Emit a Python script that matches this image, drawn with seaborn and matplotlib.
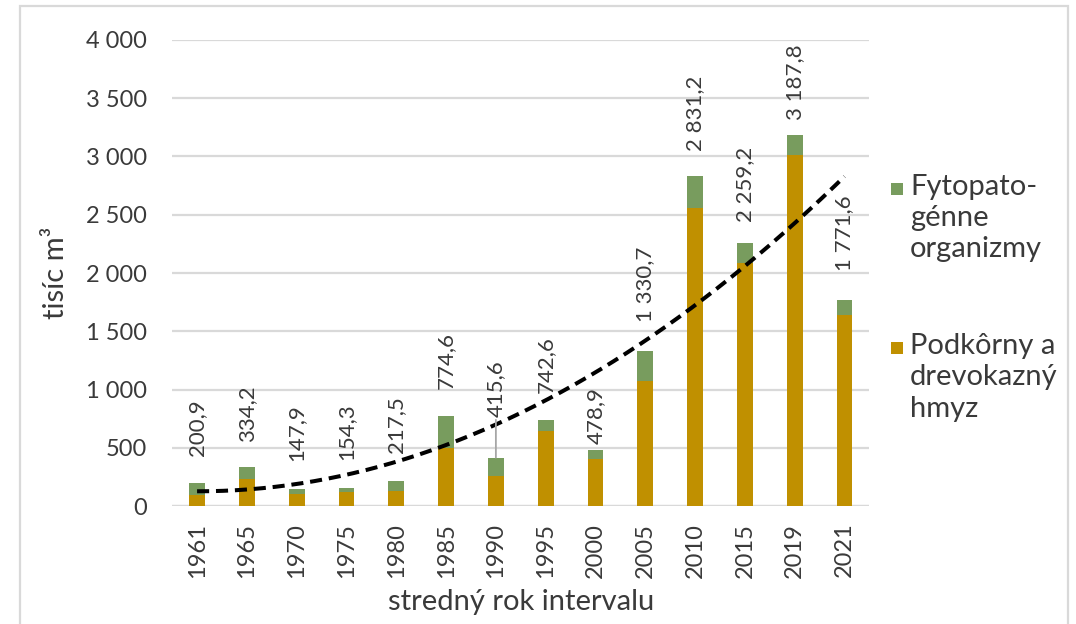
import numpy as np
import pandas as pd
import matplotlib
matplotlib.use("Agg")
import matplotlib.pyplot as plt
import matplotlib.patches as mpatches
import seaborn as sns

# ---- data ----
years = ["1961", "1965", "1970", "1975", "1980", "1985", "1990",
         "1995", "2000", "2005", "2010", "2015", "2019", "2021"]
totals = [200.9, 334.2, 147.9, 154.3, 217.5, 774.6, 415.6,
          742.6, 478.9, 1330.7, 2831.2, 2259.2, 3187.8, 1771.6]
insects = [95, 234, 103, 117, 129, 500, 260,
           643, 403, 1075, 2554, 2088, 3009, 1639]
label_texts = ["200,9", "334,2", "147,9", "154,3", "217,5", "774,6", "415,6",
               "742,6", "478,9", "1 330,7", "2 831,2", "2 259,2", "3 187,8", "1 771,6"]
yticks = [0, 500, 1000, 1500, 2000, 2500, 3000, 3500, 4000]
ytick_labels = ["0", "500", "1 000", "1 500", "2 000", "2 500", "3 000", "3 500", "4 000"]

legend_fungi = "Fytopato-\ngénne\norganizmy"
legend_insects = "Podkôrny a\ndrevokazný\nhmyz"

GREEN = "#789C5E"
GOLD = "#C09000"
TEXT = "#3A3A3A"
GRID = "#D9D9D9"

sns.set_theme(style="white")
plt.rcParams["font.family"] = ["Lato", "DejaVu Sans"]

df = pd.DataFrame({"year": years, "total": totals, "insects": insects})

fig = plt.figure(figsize=(10.76, 6.24), dpi=100)
ax = fig.add_axes([0.160, 0.189, 0.648, 0.747])

sns.barplot(data=df, x="year", y="total", order=years, color=GREEN,
            width=0.32, saturation=1, linewidth=0, ax=ax, zorder=2)
sns.barplot(data=df, x="year", y="insects", order=years, color=GOLD,
            width=0.32, saturation=1, linewidth=0, ax=ax, zorder=3)

# polynomial (order 2) trendline of totals
xpos = np.arange(len(years))
coef = np.polyfit(xpos + 1, np.array(totals), 2)
xs = np.linspace(0, len(years) - 1, 200)
ax.plot(xs, np.polyval(coef, xs + 1), color="black", lw=2.9,
        linestyle=(0, (3.0, 1.7)), zorder=5)

ax.set_ylim(0, 4000)
ax.set_xlim(-0.5, len(years) - 0.5)
ax.set_yticks(yticks)
ax.set_yticklabels(ytick_labels)
ax.yaxis.grid(True, color=GRID, lw=1.6, zorder=0)
ax.set_axisbelow(True)
for s in ax.spines.values():
    s.set_visible(False)
ax.axhline(0, color=GRID, lw=1.6, zorder=1)

ax.tick_params(axis="y", length=0, pad=18, labelsize=17, labelcolor=TEXT)
ax.tick_params(axis="x", length=0, pad=12, labelsize=17, labelcolor=TEXT,
               labelrotation=90)

ax.set_xlabel("stredný rok intervalu", fontsize=21, color=TEXT, labelpad=8)
ax.set_ylabel("tisíc m³", fontsize=21, color=TEXT, labelpad=12)

# data labels (offsets in pixels above bar top)
offsets_px = [27, 25, 28, 28, 28, 27, 41, 27, 6, 29, 25, 21, 15, 29]
for i, (t, lab) in enumerate(zip(totals, label_texts)):
    off = offsets_px[i] * 0.72
    kw = dict(xy=(i, t), xytext=(0, off), textcoords="offset points",
              rotation=90, ha="center", va="bottom", fontsize=16,
              color=TEXT, zorder=6)
    if i == 6:
        kw["arrowprops"] = dict(arrowstyle="-", color="#A6A6A6", lw=1.3,
                                shrinkA=0, shrinkB=0)
    ax.annotate(lab, **kw)

# legend (manual, squares aligned to first line)
W, H = 1076, 624
def fx(px):
    return px / W
def fy(py):
    return 1 - py / H

for sq_y, txt, col in [(183, legend_fungi, GREEN), (342, legend_insects, GOLD)]:
    fig.patches.append(mpatches.Rectangle((fx(891), fy(sq_y + 12)), fx(12), 12 / H,
                                          transform=fig.transFigure,
                                          facecolor=col, edgecolor="none"))
    fig.text(fx(910), fy(sq_y - 9), txt, fontsize=21, color=TEXT,
             ha="left", va="top", linespacing=1.25)

# light frame around the chart
frame = mpatches.Rectangle((fx(20), fy(640)), fx(1048), 634 / H,
                           transform=fig.transFigure, fill=False,
                           edgecolor=GRID, lw=1.6)
fig.patches.append(frame)

fig.savefig("out.png", dpi=100, facecolor="white")
